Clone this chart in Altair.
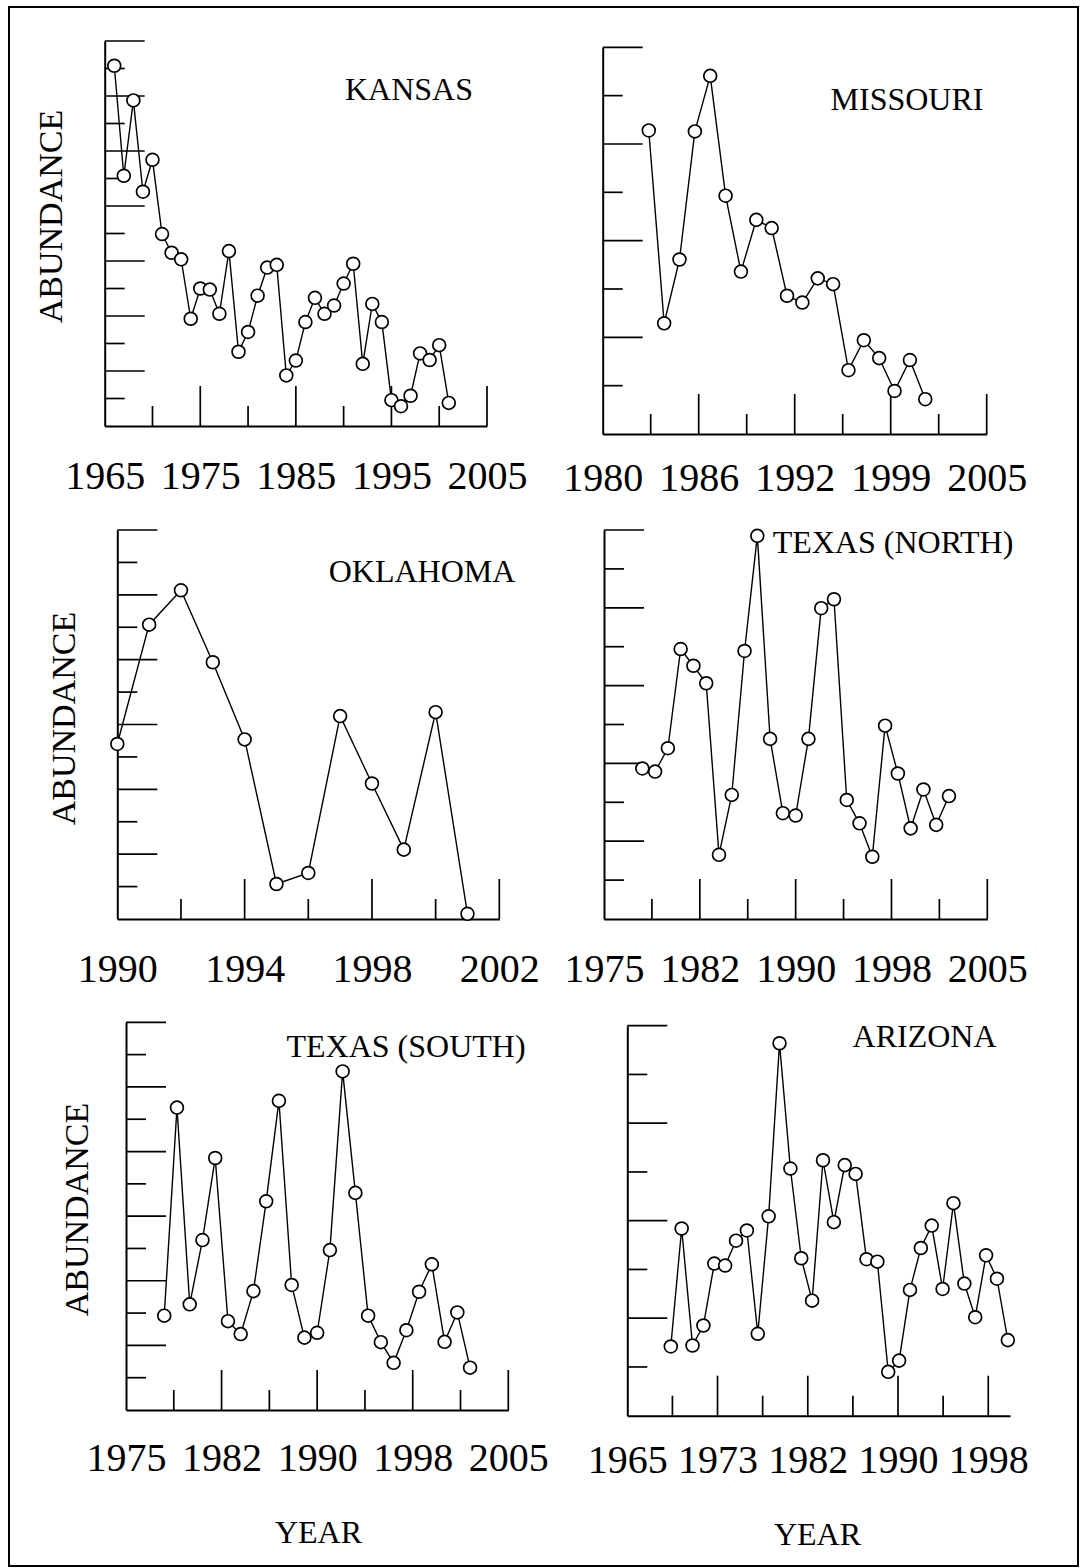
import altair as alt
import pandas as pd

FONT = "Liberation Serif"
W, H = 1069, 1559
PAD = {"left": 9, "top": 7, "right": 3, "bottom": 2}

# ---------------- data ----------------
kansas_years = list(range(1966, 2002))
kansas_vals = [6.55, 4.55, 5.92, 4.26, 4.84, 3.49, 3.15, 3.03, 1.95, 2.50, 2.48, 2.04,
               3.18, 1.35, 1.71, 2.37, 2.88, 2.93, 0.92, 1.19, 1.89, 2.33, 2.04, 2.19,
               2.59, 2.95, 1.13, 2.22, 1.89, 0.47, 0.36, 0.55, 1.32, 1.20, 1.47, 0.42]

missouri_years = list(range(1983, 2002))
missouri_vals = [6.28, 2.29, 3.61, 6.26, 7.41, 4.93, 3.36, 4.43, 4.26, 2.86, 2.72, 3.22,
                 3.10, 1.32, 1.94, 1.57, 0.89, 1.53, 0.72]

oklahoma_years = list(range(1990, 2002))
oklahoma_vals = [2.70, 4.54, 5.07, 3.96, 2.77, 0.54, 0.71, 3.13, 2.09, 1.07, 3.19, 0.08]

txn_years = list(range(1978, 2003))
txn_vals = [3.87, 3.79, 4.39, 6.94, 6.51, 6.06, 1.65, 3.19, 6.89, 9.85, 4.63, 2.72, 2.66,
            4.63, 7.99, 8.22, 3.06, 2.46, 1.60, 4.97, 3.74, 2.33, 3.33, 2.42, 3.16]

txs_years = list(range(1978, 2003))
txs_vals = [2.92, 9.36, 3.27, 5.26, 7.80, 2.75, 2.35, 3.68, 6.46, 9.57, 3.87, 2.24, 2.39,
            4.95, 10.48, 6.72, 2.92, 2.10, 1.46, 2.47, 3.66, 4.51, 2.11, 3.02, 1.31]

arizona_years = list(range(1969, 2001))
arizona_vals = [1.42, 3.84, 1.44, 1.85, 3.12, 3.08, 3.59, 3.80, 1.68, 4.09, 7.64, 5.07,
                3.23, 2.36, 5.24, 3.97, 5.14, 4.96, 3.21, 3.16, 0.90, 1.13, 2.58, 3.44,
                3.90, 2.60, 4.36, 2.71, 2.02, 3.29, 2.81, 1.55]

# tick label positions and printed labels
kansas_lab_pos = [1965, 1975, 1985, 1995, 2005]
kansas_lab_txt = ["1965", "1975", "1985", "1995", "2005"]
missouri_lab_pos = [1980, 1986.25, 1992.5, 1998.75, 2005]
missouri_lab_txt = ["1980", "1986", "1992", "1999", "2005"]
oklahoma_lab_pos = [1990, 1994, 1998, 2002]
oklahoma_lab_txt = ["1990", "1994", "1998", "2002"]
texas_lab_pos = [1975, 1982.5, 1990, 1997.5, 2005]
texas_lab_txt = ["1975", "1982", "1990", "1998", "2005"]
arizona_lab_pos = [1965, 1973.3, 1981.6, 1989.9, 1998.2]
arizona_lab_txt = ["1965", "1973", "1982", "1990", "1998"]

# tick marks (long / short)
kansas_xlong = [1975, 1985, 1995, 2005]
kansas_xshort = [1970, 1980, 1990, 2000]
kansas_ylong = [1, 2, 3, 4, 5, 6, 7]
kansas_yshort = [0.5, 1.5, 2.5, 3.5, 4.5, 5.5, 6.5]

missouri_xlong = [1986.25, 1992.5, 1998.75, 2005]
missouri_xshort = [1983.125, 1989.375, 1995.625, 2001.875]
missouri_ylong = [2, 4, 6, 8]
missouri_yshort = [1, 3, 5, 7]

oklahoma_xlong = [1994, 1998, 2002]
oklahoma_xshort = [1992, 1996, 2000]
oklahoma_ylong = [1, 2, 3, 4, 5, 6]
oklahoma_yshort = [0.5, 1.5, 2.5, 3.5, 4.5, 5.5]

texas_xlong = [1982.5, 1990, 1997.5, 2005]
texas_xshort = [1978.75, 1986.25, 1993.75, 2001.25]
txn_ylong = [2, 4, 6, 8, 10]
txn_yshort = [1, 3, 5, 7, 9]
txs_ylong = [2, 4, 6, 8, 10, 12]
txs_yshort = [1, 3, 5, 7, 9, 11]

arizona_xlong = [1973.3, 1981.6, 1989.9, 1998.2]
arizona_xshort = [1969.15, 1977.45, 1985.75, 1994.05]
arizona_ylong = [2, 4, 6, 8]
arizona_yshort = [1, 3, 5, 7]

names = ["KANSAS", "MISSOURI", "OKLAHOMA", "TEXAS (NORTH)", "TEXAS (SOUTH)", "ARIZONA"]

panels = [
    dict(name=names[0], years=kansas_years, vals=kansas_vals, xdom=[1965, 2005], ydom=[0, 7],
         xr=[95.7, 478], yr=[419, 34], lpos=kansas_lab_pos, ltxt=kansas_lab_txt,
         xl=kansas_xlong, xs=kansas_xshort, yl=kansas_ylong, ys=kansas_yshort,
         lpad=62, title_pos=(400, 93), ytitle=(-42.7, 209), xtitle=None),
    dict(name=names[1], years=missouri_years, vals=missouri_vals, xdom=[1980, 2005], ydom=[0, 8],
         xr=[593.7, 977.7], yr=[427, 40.3], lpos=missouri_lab_pos, ltxt=missouri_lab_txt,
         xl=missouri_xlong, xs=missouri_xshort, yl=missouri_ylong, ys=missouri_yshort,
         lpad=56, title_pos=(898, 103), ytitle=None, xtitle=None),
    dict(name=names[2], years=oklahoma_years, vals=oklahoma_vals, xdom=[1990, 2002], ydom=[0, 6],
         xr=[108.3, 490.3], yr=[912, 523], lpos=oklahoma_lab_pos, ltxt=oklahoma_lab_txt,
         xl=oklahoma_xlong, xs=oklahoma_xshort, yl=oklahoma_ylong, ys=oklahoma_yshort,
         lpad=62, title_pos=(413, 575), ytitle=(-43.3, 711), xtitle=None),
    dict(name=names[3], years=txn_years, vals=txn_vals, xdom=[1975, 2005], ydom=[0, 10],
         xr=[595, 978.3], yr=[912, 523], lpos=texas_lab_pos, ltxt=texas_lab_txt,
         xl=texas_xlong, xs=texas_xshort, yl=txn_ylong, ys=txn_yshort,
         lpad=62, title_pos=(884, 546), ytitle=None, xtitle=None),
    dict(name=names[4], years=txs_years, vals=txs_vals, xdom=[1975, 2005], ydom=[0, 12],
         xr=[117, 499.3], yr=[1403, 1015.3], lpos=texas_lab_pos, ltxt=texas_lab_txt,
         xl=texas_xlong, xs=texas_xshort, yl=txs_ylong, ys=txs_yshort,
         lpad=60, title_pos=(397, 1050), ytitle=(-39, 1202), xtitle=(309, 132)),
    dict(name=names[5], years=arizona_years, vals=arizona_vals, xdom=[1965, 2000.2], ydom=[0, 8],
         xr=[618.3, 1001], yr=[1408.7, 1018.7], lpos=arizona_lab_pos, ltxt=arizona_lab_txt,
         xl=arizona_xlong, xs=arizona_xshort, yl=arizona_ylong, ys=arizona_yshort,
         lpad=57, title_pos=(915.5, 1040), ytitle=None, xtitle=(808, 129)),
]


def make_panel(p):
    xscale = alt.Scale(domain=p["xdom"], range=p["xr"], nice=False, zero=False)
    yscale = alt.Scale(domain=p["ydom"], range=p["yr"], nice=False, zero=False)
    n = len(p["ltxt"]) - 1
    arr = "[" + ",".join("'%s'" % t for t in p["ltxt"]) + "]"
    xkw = dict(orient="bottom", offset=p["yr"][0] - H, values=p["lpos"],
               labelExpr="%s[round(datum.index*%d)]" % (arr, n),
               ticks=False, tickSize=0, grid=False, domainColor="black", domainWidth=2,
               labelFont=FONT, labelFontSize=40, labelColor="black",
               labelPadding=p["lpad"], labelBaseline="alphabetic", labelAlign="center",
               labelFlush=False, labelOverlap=False, zindex=0)
    if p["xtitle"]:
        xkw.update(title="YEAR", titleFont=FONT, titleFontSize=32, titleFontWeight="normal",
                   titleColor="black", titleX=p["xtitle"][0], titleY=p["xtitle"][1],
                   titleAlign="center", titleAnchor="start", titleBaseline="alphabetic")
    else:
        xkw.update(title=None)
    ykw = dict(orient="left", offset=-p["xr"][0], ticks=False, tickSize=0, labels=False,
               grid=False, domainColor="black", domainWidth=2, zindex=0)
    if p["ytitle"]:
        ykw.update(title="ABUNDANCE", titleFont=FONT, titleFontSize=34, titleFontWeight="normal",
                   titleColor="black", titleAngle=270, titleX=p["ytitle"][0],
                   titleY=p["ytitle"][1], titleAlign="center", titleAnchor="start",
                   titleBaseline="alphabetic")
    else:
        ykw.update(title=None)
    xaxis = alt.Axis(**xkw)
    yaxis = alt.Axis(**ykw)

    df = pd.DataFrame({"year": p["years"], "value": p["vals"]})
    X = alt.X("year:Q", scale=xscale, axis=xaxis)
    Y = alt.Y("value:Q", scale=yscale, axis=yaxis)

    line = alt.Chart(df).mark_line(color="black", strokeWidth=1.4).encode(x=X, y=Y)
    pts = alt.Chart(df).mark_circle(fill="white", stroke="black", strokeWidth=1.7,
                                    size=165, opacity=1).encode(x=X, y=Y)

    def ytick(vals, length):
        return alt.Chart(pd.DataFrame({"v": vals})).mark_rule(
            color="black", strokeWidth=1.7, x2Offset=length
        ).encode(y=alt.Y("v:Q", scale=yscale, axis=yaxis),
                 x=alt.datum(p["xdom"][0]), x2=alt.datum(p["xdom"][0]))

    def xtick(vals, length):
        return alt.Chart(pd.DataFrame({"v": vals})).mark_rule(
            color="black", strokeWidth=1.7, y2Offset=-length
        ).encode(x=alt.X("v:Q", scale=xscale, axis=xaxis),
                 y=alt.datum(p["ydom"][0]), y2=alt.datum(p["ydom"][0]))

    label = alt.Chart(pd.DataFrame({"name": [p["name"]]})).mark_text(
        font=FONT, fontSize=32, color="black", align="center", baseline="alphabetic"
    ).encode(text="name:N", x=alt.value(p["title_pos"][0]), y=alt.value(p["title_pos"][1]))

    return alt.layer(ytick(p["yl"], 40), ytick(p["ys"], 20),
                     xtick(p["xl"], 40), xtick(p["xs"], 20),
                     line, pts, label)


chart = alt.layer(*[make_panel(p) for p in panels]).resolve_scale(
    x="independent", y="independent"
).properties(
    width=W, height=H, padding=PAD, autosize=alt.AutoSizeParams(type="none"),
    background="white"
).configure_view(stroke="black", strokeWidth=2)

chart.save("out.html", embed_options={"renderer": "svg", "actions": False})
